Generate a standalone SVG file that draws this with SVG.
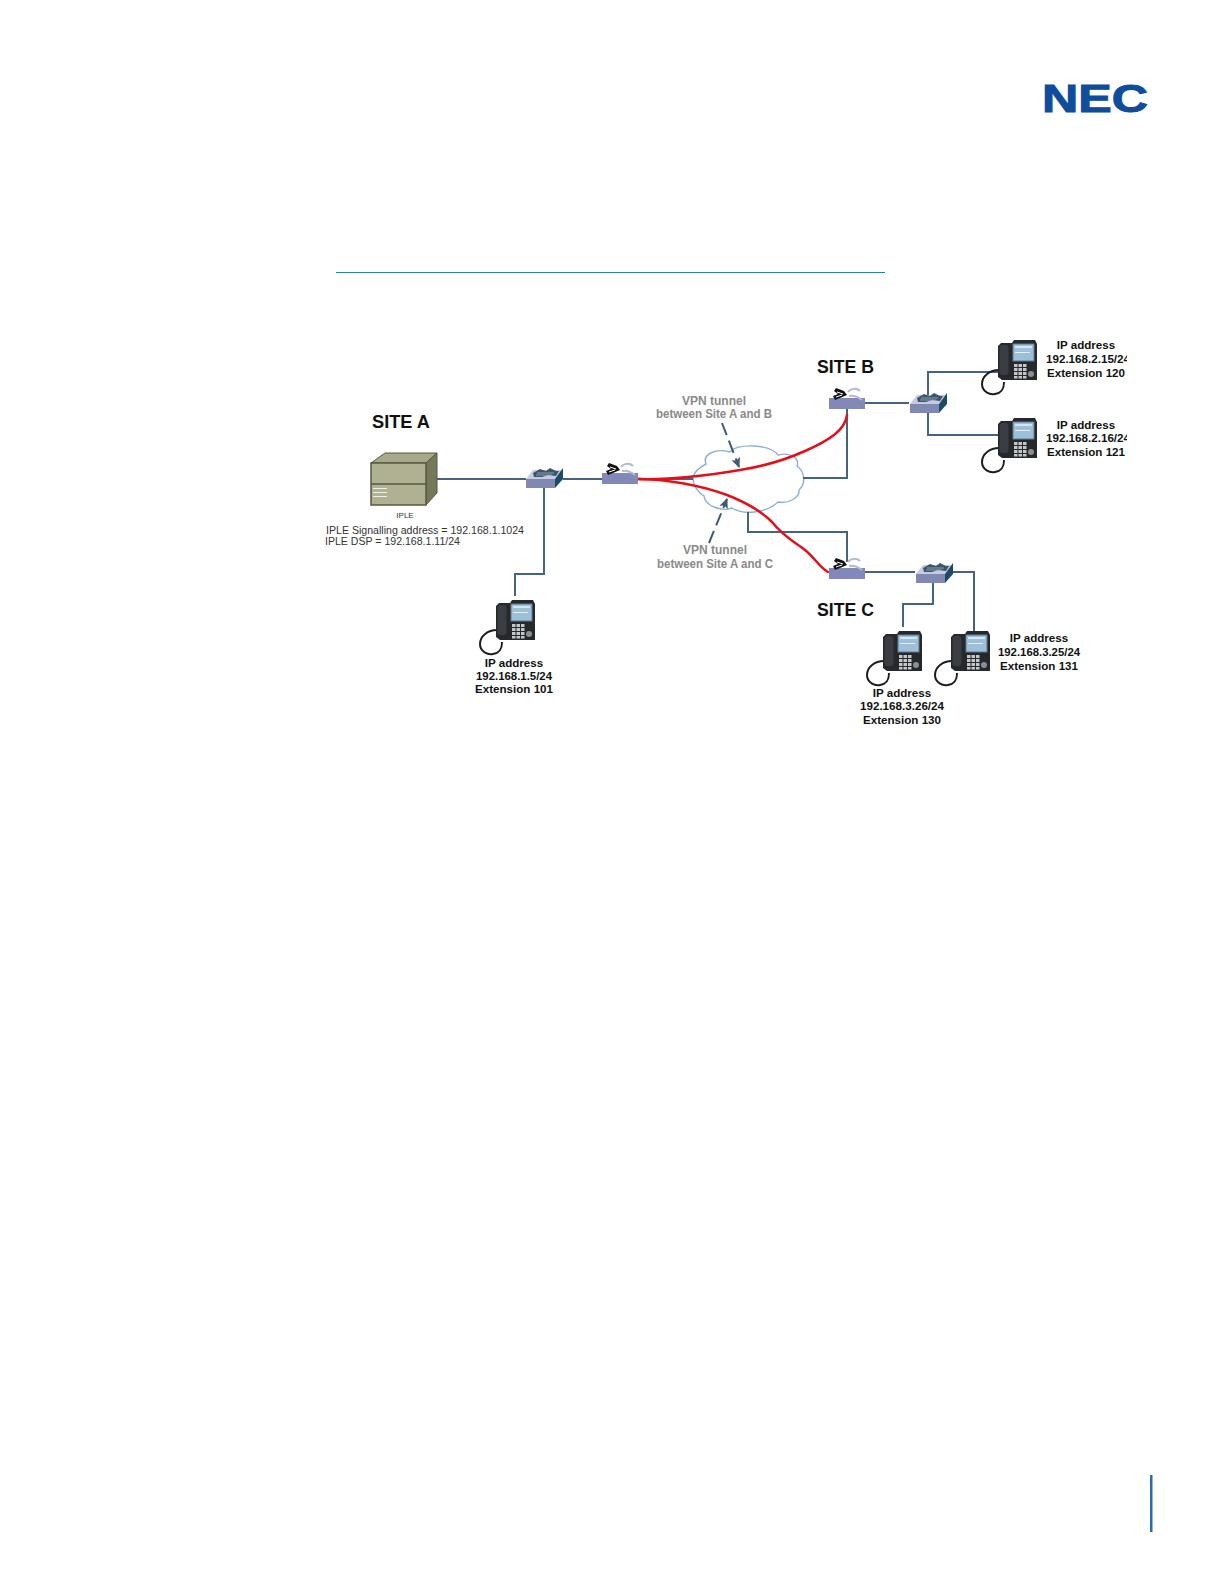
<svg xmlns="http://www.w3.org/2000/svg" width="1224" height="1584" viewBox="0 0 1224 1584">
<style>
text{font-family:"Liberation Sans",Arial,sans-serif;fill:#111}
.lbl{font-size:11.600px;font-weight:bold;text-anchor:middle}
.site{font-size:18px;font-weight:bold}
.vpn{font-size:12px;font-weight:bold;text-anchor:middle;fill:#8a8a8a}
.info{font-size:11px;fill:#333}
.net{fill:none;stroke:#46637f;stroke-width:2}
.red{fill:none;stroke:#e2101c;stroke-width:2.500;stroke-linecap:round}
.dash{fill:none;stroke:#3f5a72;stroke-width:2;stroke-dasharray:13 6}
</style>
<defs>
<clipPath id="clipB"><rect x="1030" y="335" width="97" height="130"/></clipPath>
<marker id="arr" markerWidth="10" markerHeight="10" refX="9" refY="4.500" orient="auto" markerUnits="userSpaceOnUse"><path d="M0 0L10 4.500L0 9L2 4.500Z" fill="#3f5a72"/></marker>
<g id="phone">
<path d="M1 30C-8 30-16 36-16 44C-16 52-8 55-3 54C3 53 6 50 6 42" fill="none" stroke="#1b1d20" stroke-width="2"/>
<path d="M0 6L3 3H14L16 0H37L39 4V40H4L0 37Z" fill="#26282b"/>
<rect x="1.500" y="5" width="9" height="30" rx="3" fill="#3a3d41"/>
<rect x="15" y="4" width="21" height="17" fill="#9dbfd8" stroke="#5f7b90" stroke-width="1"/>
<rect x="17" y="6" width="17" height="2" fill="#d5e4ef"/>
<rect x="17" y="12" width="15" height="1" fill="#e4eef5"/>
<g fill="#c4c7ca"><rect x="16" y="24" width="3.500" height="3"/><rect x="20.500" y="24" width="3.500" height="3"/><rect x="25" y="24" width="3.500" height="3"/><rect x="16" y="28" width="3.500" height="3"/><rect x="20.500" y="28" width="3.500" height="3"/><rect x="25" y="28" width="3.500" height="3"/><rect x="16" y="32" width="3.500" height="3"/><rect x="20.500" y="32" width="3.500" height="3"/><rect x="25" y="32" width="3.500" height="3"/><rect x="16" y="36" width="3.500" height="2.500"/><rect x="20.500" y="36" width="3.500" height="2.500"/><rect x="25" y="36" width="3.500" height="2.500"/></g>
<circle cx="33" cy="34" r="3" fill="#8a8f94"/>
</g>
<g id="switch">
<path d="M0 11L7 2H37L29 11Z" fill="#c7cbe0"/>
<path d="M7 5L14 1L20 3L24 0L30 3L33 3L30 8L22 7L16 9L8 9Z" fill="#3a5668"/>
<path d="M11 5H28M10 7H26" stroke="#9fb4c4" stroke-width=".8"/>
<path d="M29 11L37 0V11L29 20Z" fill="#1d4a68"/>
<rect x="0" y="11" width="29" height="9" fill="#8188b4"/>
</g>
<g id="router">
<rect x="0" y="0" width="36" height="11" fill="#8288b8"/>
<path d="M7 -10L15 -7L18 -3L11 0L6 2L4 -2L9 -4L5 -7Z" fill="#111"/>
<path d="M8 -6L14 -4M7 -1L13 -3" stroke="#fff" stroke-width="1"/>
<path d="M19 -6C22 -10 28 -10 31 -7M20 -2C25 -3 29 -1 33 2" stroke="#b4b8d0" stroke-width="2" fill="none"/>
</g>
</defs>
<rect width="1224" height="1584" fill="#fff"/>

<g id="page-decor">
<text x="1042" y="112" font-size="38.500" font-weight="bold" textLength="106" lengthAdjust="spacingAndGlyphs" style="fill:#0f4c9c;stroke:#0f4c9c;stroke-width:1">NEC</text>
<rect x="336" y="272" width="549" height="1" fill="#2f7ea6"/>
<rect x="1150" y="1475" width="2.500" height="57" fill="#2b6cb0"/>
</g>

<g id="cloud">
<path d="M693 478C694 470 702 466 706 464C702 454 716 448 730 452C738 443 770 444 778 455C790 452 800 458 797 466C805 472 806 484 799 490C800 498 788 504 778 502C768 512 745 516 732 508C722 512 705 506 704 496C698 492 693 486 693 478Z" fill="#fff" stroke="#8fb0cf" stroke-width="1.400"/>
</g>

<g id="connectors">
<path class="net" d="M437 479H526"/>
<path class="net" d="M563 479H602"/>
<path class="net" d="M544 488V574H515V596"/>
<path class="net" d="M638 479H693"/>
<path class="net" d="M803 478H847V403"/>
<path class="net" d="M748 512V532H847V562"/>
<path class="net" d="M865 403H909"/>
<path class="net" d="M928 403V372H998"/>
<path class="net" d="M928 413V435H998"/>
<path class="net" d="M865 572H915"/>
<path class="net" d="M953 572H974V632"/>
<path class="net" d="M933 582V604H903V627"/>
<path class="red" d="M638 479C670 480 705 476 740 470C765 466 785 460 805 451C830 440 845 430 847 415"/>
<path class="red" d="M638 479C665 479 700 485 727 495C745 502 760 510 772 522C785 538 795 542 805 550C815 558 820 568 828 572"/>
<path class="dash" d="M722 423L739 467" marker-end="url(#arr)"/>
<path class="dash" d="M709 543L727 499" marker-end="url(#arr)"/>
</g>

<g id="iple-server">
<path d="M371 463L385 453H437L426 463Z" fill="#a8a98a" stroke="#555a42"/>
<path d="M426 463L437 453V493L426 505Z" fill="#76785c" stroke="#555a42"/>
<rect x="371" y="463" width="55" height="42" fill="#b0b193" stroke="#555a42" stroke-width="1.500"/>
<path d="M371 484H426" stroke="#555a42" stroke-width="1.500"/>
<path d="M373 488.500H387M373 492.500H387M373 496.500H387" stroke="#f0f0e6" stroke-width="1.200"/>
<text x="405" y="518" font-size="8" text-anchor="middle" style="fill:#333">IPLE</text>
<text class="info" x="326" y="534" textLength="198" lengthAdjust="spacingAndGlyphs">IPLE Signalling address = 192.168.1.1024</text>
<text class="info" x="325" y="545" textLength="135" lengthAdjust="spacingAndGlyphs">IPLE DSP = 192.168.1.11/24</text>
</g>

<g id="site-a"><text class="site" x="372" y="428" textLength="58" lengthAdjust="spacingAndGlyphs">SITE A</text></g>
<g id="site-b"><text class="site" x="817" y="373" textLength="57" lengthAdjust="spacingAndGlyphs">SITE B</text></g>
<g id="site-c"><text class="site" x="817" y="616" textLength="57" lengthAdjust="spacingAndGlyphs">SITE C</text></g>

<g id="switch-a"><use href="#switch" x="526" y="468"/></g>
<g id="router-a"><use href="#router" x="602" y="473"/></g>
<g id="router-b"><use href="#router" x="829" y="398"/></g>
<g id="switch-b"><use href="#switch" x="910" y="393"/></g>
<g id="router-c"><use href="#router" x="829" y="568"/></g>
<g id="switch-c"><use href="#switch" x="916" y="563"/></g>

<g id="vpn-ab">
<text class="vpn" x="714" y="405">VPN tunnel</text>
<text class="vpn" x="714" y="418" textLength="116" lengthAdjust="spacingAndGlyphs">between Site A and B</text>
</g>
<g id="vpn-ac">
<text class="vpn" x="715" y="554">VPN tunnel</text>
<text class="vpn" x="715" y="568" textLength="116" lengthAdjust="spacingAndGlyphs">between Site A and C</text>
</g>

<g id="phone-101">
<use href="#phone" x="496" y="600"/>
<text class="lbl" x="514" y="667">IP address</text>
<text class="lbl" x="514" y="680" textLength="76" lengthAdjust="spacingAndGlyphs">192.168.1.5/24</text>
<text class="lbl" x="514" y="693">Extension 101</text>
</g>
<g id="phone-120">
<use href="#phone" x="998" y="340"/>
<text class="lbl" x="1086" y="349">IP address</text>
<text class="lbl" x="1046" y="363" style="text-anchor:start" clip-path="url(#clipB)" textLength="84" lengthAdjust="spacingAndGlyphs">192.168.2.15/24</text>
<text class="lbl" x="1086" y="377">Extension 120</text>
</g>
<g id="phone-121">
<use href="#phone" x="998" y="418"/>
<text class="lbl" x="1086" y="429">IP address</text>
<text class="lbl" x="1046" y="442" style="text-anchor:start" clip-path="url(#clipB)" textLength="84" lengthAdjust="spacingAndGlyphs">192.168.2.16/24</text>
<text class="lbl" x="1086" y="456">Extension 121</text>
</g>
<g id="phone-130">
<use href="#phone" x="883" y="631"/>
<text class="lbl" x="902" y="697">IP address</text>
<text class="lbl" x="902" y="710" textLength="84" lengthAdjust="spacingAndGlyphs">192.168.3.26/24</text>
<text class="lbl" x="902" y="724">Extension 130</text>
</g>
<g id="phone-131">
<use href="#phone" x="951" y="631"/>
<text class="lbl" x="1039" y="642">IP address</text>
<text class="lbl" x="1039" y="656" textLength="82" lengthAdjust="spacingAndGlyphs">192.168.3.25/24</text>
<text class="lbl" x="1039" y="670">Extension 131</text>
</g>
</svg>
